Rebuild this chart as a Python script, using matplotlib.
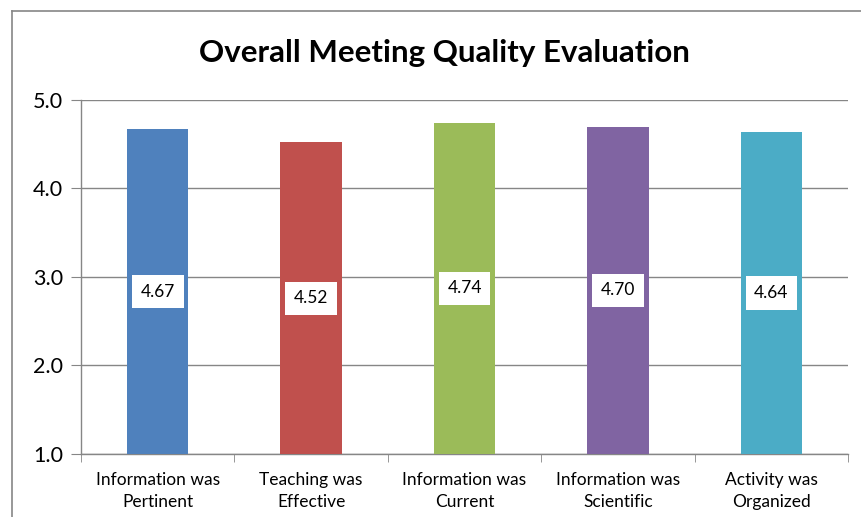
import matplotlib.pyplot as plt
from matplotlib.lines import Line2D
import numpy as np

# chart data
categories = ['Information was\nPertinent', 'Teaching was\nEffective', 'Information was\nCurrent',
              'Information was\nScientific', 'Activity was\nOrganized']
scores = [4.67, 4.52, 4.74, 4.70, 4.64]
colors = ['#4F81BD', '#C0504D', '#9BBB59', '#8064A2', '#4BACC6']
y_ticks = [1.0, 2.0, 3.0, 4.0, 5.0]

plt.rcParams['font.family'] = ['Lato', 'DejaVu Sans']

fig = plt.figure(figsize=(8.61, 5.17), dpi=100)
ax = fig.add_axes([0.0941, 0.1219, 0.8909, 0.6847])

x = np.arange(len(categories))
base = 1.0
ax.bar(x, [s - base for s in scores], bottom=base, width=0.40, color=colors, zorder=3)

# value labels in white boxes at the middle of each bar
for xi, s in zip(x, scores):
    ax.text(xi, (s + base) / 2, f'{s:.2f}', ha='center', va='center', fontsize=12.5,
            color='black', zorder=4,
            bbox=dict(boxstyle='square,pad=0.5', facecolor='white', edgecolor='none'))

ax.set_xlim(-0.5, len(categories) - 0.5)
ax.set_ylim(1.0, 5.0)
ax.set_yticks(y_ticks)
ax.set_yticklabels([f'{t:.1f}' for t in y_ticks], fontsize=15.5)
ax.set_xticks(x)
ax.set_xticklabels(categories, fontsize=12.5, linespacing=1.45)
ax.set_xticks(np.arange(len(categories) + 1) - 0.5, minor=True)
ax.tick_params(axis='x', which='major', length=0, pad=13)
ax.tick_params(axis='x', which='minor', length=6, color='#868686')
ax.tick_params(axis='y', length=7, color='#868686', pad=6)

ax.grid(axis='y', color='#868686', linewidth=1.0, zorder=0)
for side in ['top', 'right']:
    ax.spines[side].set_visible(False)
for side in ['left', 'bottom']:
    ax.spines[side].set_color('#868686')
    ax.spines[side].set_linewidth(1.0)

fig.text(0.516, 0.898, 'Overall Meeting Quality Evaluation', ha='center', va='center',
         fontsize=22.5, fontweight='bold')

# outer chart frame (left and top edges visible)
fig.add_artist(Line2D([12 / 861, 12 / 861], [0, 1 - 11 / 517], color='#868686', linewidth=1.2))
fig.add_artist(Line2D([12 / 861, 1], [1 - 11 / 517, 1 - 11 / 517], color='#868686', linewidth=1.2))

fig.savefig('out.png', dpi=100)
